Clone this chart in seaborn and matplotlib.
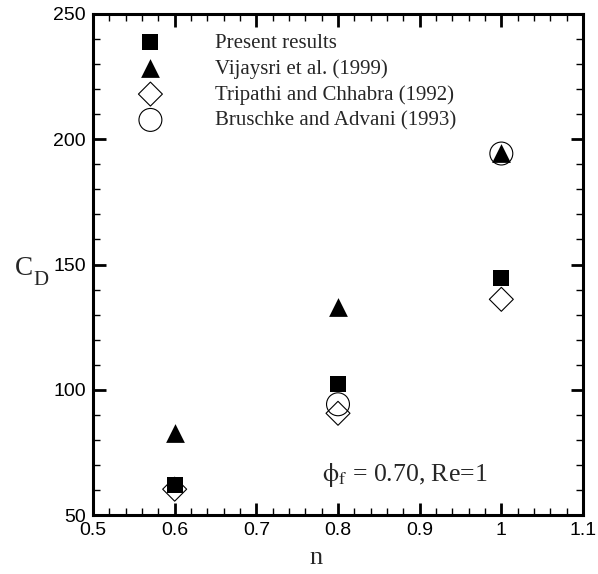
import matplotlib
matplotlib.use("Agg")
import matplotlib.pyplot as plt
import seaborn as sns
import pandas as pd
from matplotlib.ticker import MultipleLocator

# Drag coefficient C_D versus power-law index n
n_present = [0.6, 0.8, 1.0]
cd_present = [61.8, 102.2, 144.5]

n_vijaysri = [0.6, 0.8, 1.0]
cd_vijaysri = [82.8, 133.2, 194.5]

n_tripathi = [0.6, 0.8, 1.0]
cd_tripathi = [60.3, 90.6, 136.1]

n_bruschke = [0.8, 1.0]
cd_bruschke = [94.2, 194.3]

labels = ["Present results", "Vijaysri et al. (1999)",
          "Tripathi and Chhabra (1992)", "Bruschke and Advani (1993)"]

xticks = [0.5, 0.6, 0.7, 0.8, 0.9, 1.0, 1.1]
xticklabels = ["0.5", "0.6", "0.7", "0.8", "0.9", "1", "1.1"]
yticks = [50, 100, 150, 200, 250]

sns.set_theme(style="ticks")
plt.rcParams["font.family"] = ["Liberation Sans", "DejaVu Sans"]
plt.rcParams["mathtext.fontset"] = "stix"

W, H = 598, 574
fig = plt.figure(figsize=(W / 100, H / 100), dpi=100)
ax = fig.add_axes([93 / W, 1 - 515 / H, 490 / W, 501 / H])

df_b = pd.DataFrame({"n": n_bruschke, "cd": cd_bruschke})
df_t = pd.DataFrame({"n": n_tripathi, "cd": cd_tripathi})
df_p = pd.DataFrame({"n": n_present, "cd": cd_present})
df_v = pd.DataFrame({"n": n_vijaysri, "cd": cd_vijaysri})

sns.scatterplot(data=df_b, x="n", y="cd", ax=ax, marker="o", s=16.5 ** 2,
                facecolor="none", edgecolor="black", linewidth=0.8,
                label=labels[3], zorder=3)
sns.scatterplot(data=df_t, x="n", y="cd", ax=ax, marker="D", s=12.2 ** 2,
                facecolor="none", edgecolor="black", linewidth=0.8,
                label=labels[2], zorder=3)
sns.scatterplot(data=df_p, x="n", y="cd", ax=ax, marker="s", s=12 ** 2,
                color="black", edgecolor="black", linewidth=0,
                label=labels[0], zorder=4)
sns.scatterplot(data=df_v, x="n", y="cd", ax=ax, marker="^", s=13.5 ** 2,
                color="black", edgecolor="black", linewidth=0,
                label=labels[1], zorder=5)

ax.set_xlim(0.5, 1.1)
ax.set_ylim(50, 250)
ax.set_xticks(xticks)
ax.set_xticklabels(xticklabels)
ax.set_yticks(yticks)
ax.xaxis.set_minor_locator(MultipleLocator(0.02))
ax.yaxis.set_minor_locator(MultipleLocator(10))
ax.tick_params(which="both", direction="in", top=True, right=True,
               labeltop=False, labelright=False, colors="black")
ax.tick_params(which="major", length=9, width=2, labelsize=14, pad=5)
ax.tick_params(which="minor", length=5, width=1)
for sp in ax.spines.values():
    sp.set_linewidth(2.2)
    sp.set_color("black")

# axis titles
ax.set_xlabel("n", fontfamily="Liberation Serif", fontsize=19)
ax.xaxis.label.set_verticalalignment("baseline")
ax.xaxis.set_label_coords((316 - 93) / 490, (515 - 564) / 501)
ax.set_ylabel("")
fig.text(15 / W, 1 - 275 / H, "C", fontfamily="Liberation Serif", fontsize=19.5,
         ha="left", va="baseline")
fig.text(33 / W, 1 - 285 / H, "D", fontfamily="Liberation Serif", fontsize=15,
         ha="left", va="baseline")

ax.text(0.780, 63.6, r"$\mathrm{\phi_f}$ = 0.70, Re=1", fontfamily="Liberation Serif",
        fontsize=18.5, ha="left", va="baseline")

handles, labs = ax.get_legend_handles_labels()
order = [labs.index(l) for l in labels]
ax.legend([handles[i] for i in order], [labs[i] for i in order],
          loc="upper left", bbox_to_anchor=((140 - 93) / 490, (515 - 33) / 501),
          frameon=False, borderpad=0, borderaxespad=0, handlelength=1.0,
          handletextpad=2.6, labelspacing=0.3,
          prop={"family": "Liberation Serif", "size": 15})

fig.savefig("out.png", dpi=100, facecolor="white")
